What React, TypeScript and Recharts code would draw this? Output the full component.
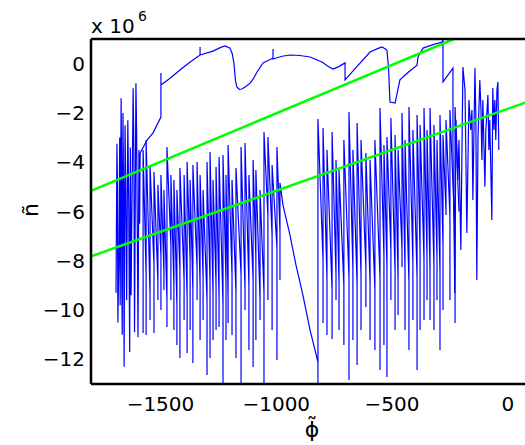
import React from 'react';
import { LineChart, Line, XAxis, YAxis } from 'recharts';

// phi (x) and n (in units of 1e6): left cluster -> upper arc -> dense right cluster
const branchA: [number, number][] = [
  [-1692, -9.3], [-1688, -3.25], [-1686, -4.6], [-1684, -10.5], [-1680, -8.2],
  [-1676, -3.0], [-1674, -9.8], [-1670, -1.4], [-1668, -4.0], [-1667, -9.0],
  [-1665, -11.0], [-1662, -2.0], [-1659, -5.5], [-1657, -12.3], [-1653, -2.5],
  [-1650, -4.9], [-1646, -9.6], [-1641, -2.3], [-1637, -5.8], [-1633, -11.7],
  [-1630, -3.4], [-1627, -9.4], [-1618, -1.0], [-1615, -3.4], [-1612, -10.9],
  [-1606, -0.8], [-1603, -2.8], [-1600, -6.8], [-1597, -11.1], [-1593, -3.5],
  [-1590, -6.5], [-1588, -3.63], [-1558, -3.1], [-1532, -2.81], [-1498, -2.17],
  [-1498, -0.38], [-1498, -0.87], [-1460, -0.6], [-1416, -0.26], [-1370, 0.08],
  [-1329, 0.35], [-1329, 0.68], [-1329, 0.35], [-1273, 0.51], [-1240, 0.66],
  [-1221, 0.72], [-1200, 0.63], [-1190, 0.4], [-1183, 0.03], [-1176, -0.7],
  [-1170, -0.95], [-1160, -1.04], [-1148, -1.03], [-1130, -0.92], [-1113, -0.79],
  [-1098, -0.6], [-1083, -0.34], [-1057, 0.03], [-1035, 0.13], [-1014, 0.23],
  [-1014, 0.59], [-1014, 0.19], [-975, 0.3], [-941, 0.35], [-898, 0.33],
  [-854, 0.27], [-803, 0.07], [-775, -0.12], [-755, -0.22], [-730, -0.12],
  [-703, 0.03], [-703, -0.66], [-650, -0.1], [-595, 0.47], [-560, 0.62],
  [-543, 0.68], [-522, 0.55], [-515, -0.2], [-509, -1.56], [-487, -1.6],
  [-466, -0.66], [-430, -0.35], [-392, -0.06], [-388, 0.27], [-366, 0.63],
  [-320, 0.78], [-284, 0.88], [-280, 0.96], [-280, -0.74], [-237, -0.18],
  [-237, -3.5], [-229, -9.31], [-224, -2.29], [-216, -4.72], [-211, -3.1],
  [-203, -7.56], [-194, -0.14], [-185, -1.07], [-181, -3.91], [-177, -6.87],
  [-168, -1.48], [-160, -2.69], [-155, -1.88], [-151, -5.53], [-142, -0.18],
  [-138, -2.29], [-134, -8.78], [-129, -3.1], [-121, -0.66], [-116, -1.88],
  [-112, -3.91], [-108, -1.48], [-99, -5.0], [-95, -2.69], [-86, -1.27],
  [-82, -3.5], [-78, -2.29], [-69, -6.34], [-65, -0.99], [-60, -2.69],
  [-56, -1.48], [-52, -3.1], [-47, -1.07], [-43, -0.75], [-39, -3.5],
];

// phi and n (1e6): sawtooth spikes across the middle (down to bottom, up to top, descend)
const branchB: [number, number][] = [
  [-1575, -10.93], [-1575, -3.5],
  [-1562, -8.6], [-1562, -11.01], [-1562, -3.1],
  [-1545, -9.4], [-1545, -10.4], [-1545, -4.11],
  [-1528, -8.2], [-1528, -10.93], [-1528, -4.4],
  [-1511, -8.9], [-1511, -9.59], [-1511, -4.92],
  [-1498, -7.8], [-1498, -10.0], [-1498, -4.52],
  [-1485, -8.5], [-1485, -9.19], [-1485, -5.13],
  [-1472, -9.6], [-1472, -10.69], [-1472, -3.38],
  [-1455, -7.4], [-1455, -9.59], [-1455, -4.52],
  [-1442, -9.0], [-1442, -10.81], [-1442, -4.72],
  [-1429, -9.8], [-1429, -11.42], [-1429, -5.13],
  [-1416, -8.4], [-1416, -11.94], [-1416, -4.23],
  [-1398, -8.8], [-1398, -10.4], [-1398, -4.52],
  [-1385, -9.5], [-1385, -11.74], [-1385, -3.99],
  [-1372, -8.0], [-1372, -10.81], [-1372, -4.72],
  [-1360, -9.2], [-1360, -12.15], [-1360, -4.11],
  [-1342, -8.3], [-1342, -9.59], [-1342, -3.99],
  [-1329, -9.0], [-1329, -11.21], [-1329, -4.52],
  [-1316, -8.7], [-1316, -10.4], [-1316, -5.13],
  [-1299, -9.6], [-1299, -12.63], [-1299, -3.99],
  [-1286, -8.9], [-1286, -11.94], [-1286, -3.59],
  [-1273, -9.4], [-1273, -11.21], [-1273, -4.72],
  [-1260, -9.0], [-1260, -10.81], [-1260, -4.19],
  [-1247, -9.5], [-1247, -10.69], [-1247, -3.79],
  [-1230, -9.8], [-1230, -13.0], [-1230, -3.71],
  [-1217, -8.9], [-1217, -11.21], [-1217, -4.52],
  [-1208, -9.6], [-1208, -10.52], [-1208, -3.3],
  [-1191, -8.6], [-1191, -11.01], [-1191, -4.72],
  [-1174, -9.3], [-1174, -11.94], [-1174, -4.23],
  [-1152, -8.6], [-1152, -13.0], [-1152, -3.38],
  [-1135, -9.2], [-1135, -10.0], [-1135, -3.22],
  [-1118, -9.0], [-1118, -11.62], [-1118, -4.52],
  [-1100, -8.8], [-1100, -12.31], [-1100, -3.91],
  [-1088, -7.9], [-1088, -11.21], [-1088, -4.32],
  [-1070, -9.6], [-1070, -10.4], [-1070, -5.13],
  [-1053, -9.3], [-1053, -13.0], [-1053, -2.77],
  [-1036, -6.2], [-1036, -9.59], [-1036, -2.98],
  [-1018, -7.0], [-1018, -10.81], [-1018, -4.11],
  [-997, -7.5], [-997, -12.03], [-997, -3.38],
  [-984, -6.8], [-984, -8.78], [-984, -4.84],
  [-971, -5.74], [-941, -6.95], [-915, -8.17], [-885, -9.39], [-854, -10.81], [-820, -12.11],
  [-820, -13.0], [-820, -2.25],
  [-798, -8.0], [-798, -10.52], [-798, -2.61],
  [-781, -8.8], [-781, -11.01], [-781, -3.5],
  [-759, -9.2], [-759, -11.17], [-759, -2.77],
  [-742, -8.6], [-742, -9.59], [-742, -3.91],
  [-729, -8.9], [-729, -10.81], [-729, -4.32],
  [-708, -9.0], [-708, -11.42], [-708, -3.1],
  [-686, -8.7], [-686, -12.84], [-686, -1.96],
  [-669, -8.4], [-669, -11.21], [-669, -3.5],
  [-651, -9.0], [-651, -12.23], [-651, -2.41],
  [-634, -8.6], [-634, -10.81], [-634, -3.1],
  [-613, -8.3], [-613, -9.88], [-613, -3.63],
  [-595, -8.9], [-595, -11.21], [-595, -3.91],
  [-574, -9.2], [-574, -11.62], [-574, -3.1],
  [-552, -8.7], [-552, -12.43], [-552, -1.8],
  [-535, -7.8], [-535, -11.42], [-535, -3.3],
  [-522, -8.3], [-522, -12.72], [-522, -2.98],
  [-505, -7.6], [-505, -9.59], [-505, -2.21],
  [-487, -8.5], [-487, -10.81], [-487, -2.9],
  [-474, -8.8], [-474, -10.2], [-474, -3.5],
  [-457, -7.6], [-457, -8.25], [-457, -2.0],
  [-444, -8.4], [-444, -10.81], [-444, -3.1],
  [-427, -8.9], [-427, -11.62], [-427, -1.76],
  [-410, -8.1], [-410, -10.4], [-410, -2.69],
  [-392, -8.7], [-392, -12.43], [-392, -2.08],
  [-379, -7.6], [-379, -10.81], [-379, -2.49],
  [-362, -8.0], [-362, -10.4], [-362, -1.8],
  [-349, -7.9], [-349, -9.59], [-349, -2.69],
  [-336, -8.4], [-336, -10.4], [-336, -1.8],
  [-319, -8.3], [-319, -10.81], [-319, -2.49],
  [-306, -7.9], [-306, -9.59], [-306, -3.1],
  [-293, -8.5], [-293, -11.62], [-293, -2.08],
  [-280, -7.4], [-280, -10.0], [-280, -2.9],
  [-267, -6.0], [-267, -6.14], [-267, -2.29],
  [-250, -6.2], [-250, -9.59], [-250, -1.88],
  [-228, -6.9], [-228, -10.52], [-228, -1.76],
  [-211, -6.0],
];

// fitted straight lines (endpoints)
const fitUpper: [number, number][] = [[-1800, -5.16], [-233, 1.0]];
const fitLower: [number, number][] = [[-1800, -7.82], [100, -1.5]];

const xTicks = [-1500, -1000, -500, 0];
const yTicks = [-12, -10, -8, -6, -4, -2, 0];
const xDomain = [-1800, 100];
const yDomain = [-13, 1];

const toRows = (arr: [number, number][]) => arr.map(([x, y]) => ({ x, y }));
const fmt = (v: number) => (v < 0 ? '\u2212' + Math.abs(v) : String(v));

const FONT = 'DejaVu Sans';
const axisLineStyle = { stroke: '#000', strokeWidth: 2.5 };
const tickLineStyle = { stroke: '#000', strokeWidth: 2 };
const tickText = { fill: '#000', fontSize: 20, fontFamily: FONT };

export default function App() {
  return (
    <div style={{ position: 'absolute', left: 0, top: 0, width: 525, height: 445, overflow: 'hidden', background: '#fff' }}>
      <LineChart width={560} height={445} margin={{ top: 39, right: 29, bottom: 31, left: 31 }}>
        <XAxis xAxisId="b" type="number" dataKey="x" domain={xDomain} ticks={xTicks} allowDataOverflow
          orientation="bottom" height={30} tickSize={0} tickMargin={13} tickLine={false}
          axisLine={axisLineStyle} tick={tickText} tickFormatter={fmt} />
        <XAxis xAxisId="bm" type="number" dataKey="x" domain={xDomain} ticks={xTicks} allowDataOverflow
          orientation="bottom" mirror height={30} tickSize={4} tick={false} tickLine={tickLineStyle} axisLine={false} />
        <XAxis xAxisId="tm" type="number" dataKey="x" domain={xDomain} ticks={xTicks} allowDataOverflow
          orientation="top" mirror height={30} tickSize={4} tick={false} tickLine={tickLineStyle} axisLine={axisLineStyle} />
        <YAxis yAxisId="l" type="number" domain={yDomain} ticks={yTicks} allowDataOverflow
          width={60} tickSize={0} tickMargin={6} tickLine={false} axisLine={axisLineStyle}
          tick={tickText} tickFormatter={fmt} />
        <YAxis yAxisId="lm" type="number" domain={yDomain} ticks={yTicks} allowDataOverflow
          mirror width={60} tickSize={4} tick={false} tickLine={tickLineStyle} axisLine={false} />
        <Line xAxisId="b" yAxisId="l" data={toRows(branchA)} dataKey="y" type="linear" stroke="#0000ff"
          strokeWidth={1.2} dot={false} isAnimationActive={false} />
        <Line xAxisId="b" yAxisId="l" data={toRows(branchB)} dataKey="y" type="linear" stroke="#0000ff"
          strokeWidth={1.2} dot={false} isAnimationActive={false} />
        <Line xAxisId="b" yAxisId="l" data={toRows(fitUpper)} dataKey="y" type="linear" stroke="#00ff00"
          strokeWidth={2.5} dot={false} isAnimationActive={false} />
        <Line xAxisId="b" yAxisId="l" data={toRows(fitLower)} dataKey="y" type="linear" stroke="#00ff00"
          strokeWidth={2.5} dot={false} isAnimationActive={false} />
      </LineChart>
      <svg width={525} height={445} style={{ position: 'absolute', left: 0, top: 0, pointerEvents: 'none' }}>
        <text x={91} y={33} fontSize={20} fontFamily={FONT} fill="#000">x 10</text>
        <text x={138} y={21} fontSize={14} fontFamily={FONT} fill="#000">6</text>
        <text x={0} y={0} fontSize={22} fontFamily={FONT} fill="#000" textAnchor="middle"
          transform="translate(38,210) rotate(-90)">ñ</text>
        <text x={312} y={437} fontSize={22} fontFamily={FONT} fill="#000" textAnchor="middle">{'\u03D5\u0303'}</text>
      </svg>
    </div>
  );
}
